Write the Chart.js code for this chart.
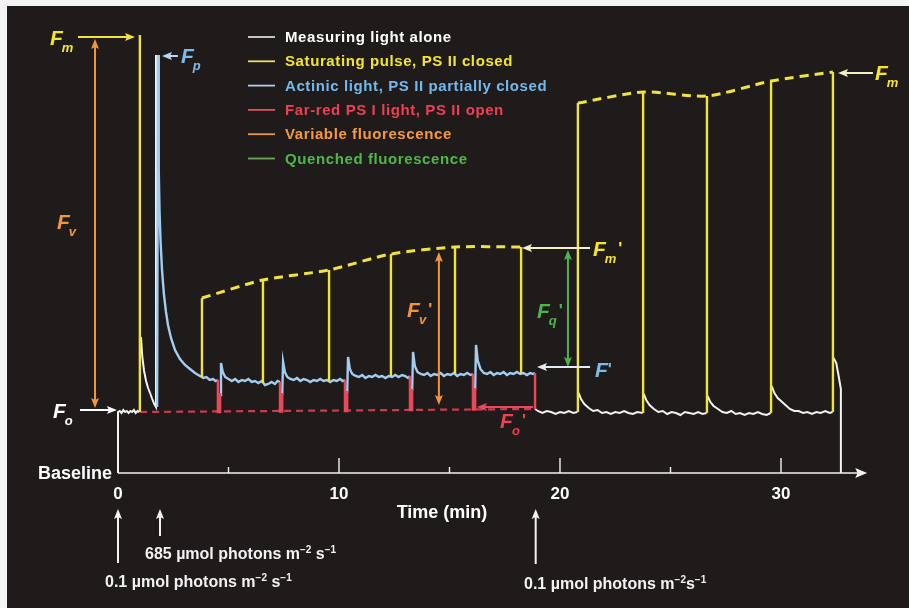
<!DOCTYPE html>
<html><head><meta charset="utf-8">
<script src="https://cdn.jsdelivr.net/npm/chart.js@4.4.1/dist/chart.umd.min.js"></script>
<style>html,body{margin:0;padding:0;background:#fff;}canvas{display:block;}</style>
</head><body>
<canvas id="c" width="909" height="608"></canvas>
<script>
// ---------------- DATA (time in min, fluorescence in relative units) ----------------
const timeTicksMajor = [0, 10, 20, 30];
const timeTickLabels = ['0', '10', '20', '30'];
const timeTicksMinor = [5, 15, 25];
const axisEnd = 33.9;

const legendLabels = [
  'Measuring light alone',
  'Saturating pulse, PS II closed',
  'Actinic light, PS II partially closed',
  'Far-red PS I light, PS II open',
  'Variable fluorescence',
  'Quenched fluorescence'
];

// measuring light alone (white trace)
const measuringLight = [
  [0,0],[0,0.61],[0.08,0.62],[0.16,0.60],[0.24,0.63],[0.32,0.61],[0.4,0.62],[0.48,0.60],[0.56,0.62],[0.64,0.61],[0.72,0.63],[0.8,0.60],[0.88,0.62],[0.97,0.61],
  null,
  [1.04,1.36],[1.1,1.16],[1.18,1.02],[1.27,0.92],[1.36,0.85],[1.45,0.80],[1.55,0.74],[1.64,0.69],[1.72,0.66],[1.72,4.18],
  null,
  [18.87,0.64],[19.0,0.62],[19.2,0.60],[19.4,0.62],[19.6,0.61],[19.8,0.59],[20.0,0.61],[20.2,0.60],[20.4,0.62],[20.6,0.60],[20.79,0.61],
  null,
  [20.84,0.80],[20.95,0.74],[21.1,0.69],[21.3,0.65],[21.5,0.62],[21.7,0.63],[21.9,0.60],[22.1,0.61],[22.3,0.59],[22.5,0.61],[22.7,0.60],[22.9,0.62],[23.1,0.60],[23.3,0.59],[23.5,0.61],[23.74,0.60],
  null,
  [23.79,0.79],[23.9,0.73],[24.05,0.68],[24.25,0.64],[24.45,0.61],[24.65,0.62],[24.85,0.59],[25.05,0.61],[25.25,0.60],[25.45,0.58],[25.65,0.61],[25.85,0.60],[26.05,0.59],[26.25,0.61],[26.45,0.59],[26.63,0.60],
  null,
  [26.68,0.77],[26.8,0.71],[26.95,0.67],[27.15,0.64],[27.35,0.61],[27.55,0.60],[27.75,0.62],[27.95,0.59],[28.15,0.60],[28.35,0.58],[28.55,0.60],[28.75,0.59],[28.95,0.61],[29.15,0.59],[29.35,0.58],[29.53,0.60],
  null,
  [29.58,0.87],[29.7,0.80],[29.85,0.75],[30.0,0.72],[30.2,0.68],[30.4,0.64],[30.6,0.62],[30.8,0.62],[31.0,0.60],[31.2,0.61],[31.4,0.59],[31.6,0.61],[31.8,0.60],[32.0,0.62],[32.2,0.60],[32.33,0.61],
  null,
  [32.38,1.15],[32.5,1.10],[32.6,0.98],[32.71,0.84],[32.71,0]
];

// actinic light (blue trace)
const actinicLight = [
  [1.77,0.66],[1.81,4.18],[1.833,3.53],[1.855,3.03],[1.878,2.63],[1.923,2.33],[1.991,2.03],[2.081,1.78],[2.172,1.61],[2.262,1.48],[2.398,1.35],[2.579,1.23],[2.805,1.14],[3.032,1.08],[3.258,1.04],[3.484,1.00],[3.71,0.97],[3.86,0.95],[4.0,0.96],[4.15,0.93],[4.3,0.94],[4.42,0.92],[4.52,0.93],
  null,
  [4.62,0.78],[4.66,1.10],[4.74,1.01],[4.85,0.96],[5.0,0.94],[5.15,0.92],[5.3,0.94],[5.45,0.91],[5.6,0.93],[5.75,0.92],[5.9,0.94],[6.05,0.91],[6.2,0.92],[6.35,0.90],[6.5,0.92],[6.65,0.88],[6.8,0.89],[6.95,0.91],[7.1,0.89],[7.22,0.92],[7.33,0.91],
  null,
  [7.43,0.78],[7.47,1.11],[7.55,1.01],[7.66,0.96],[7.8,0.94],[7.95,0.93],[8.1,0.95],[8.25,0.92],[8.4,0.94],[8.55,0.93],[8.7,0.91],[8.85,0.93],[9.0,0.92],[9.15,0.94],[9.3,0.92],[9.45,0.93],[9.6,0.91],[9.75,0.93],[9.9,0.92],[10.05,0.94],[10.17,0.92],[10.27,0.93],
  null,
  [10.37,0.80],[10.41,1.16],[10.49,1.04],[10.6,0.99],[10.75,0.97],[10.9,0.96],[11.05,0.98],[11.2,0.95],[11.35,0.97],[11.5,0.96],[11.65,0.98],[11.8,0.96],[11.95,0.97],[12.1,0.95],[12.25,0.97],[12.4,0.96],[12.55,0.98],[12.7,0.96],[12.85,0.98],[13.0,0.97],[13.12,0.95],[13.21,0.97],
  null,
  [13.31,0.82],[13.35,1.21],[13.43,1.07],[13.55,1.01],[13.7,0.99],[13.85,0.98],[14.0,1.00],[14.15,0.97],[14.3,0.99],[14.45,0.98],[14.6,1.00],[14.75,0.97],[14.9,0.99],[15.05,0.98],[15.2,1.00],[15.35,0.97],[15.5,0.99],[15.65,0.98],[15.8,1.00],[15.95,0.98],[16.06,0.99],
  null,
  [16.16,0.83],[16.2,1.28],[16.28,1.12],[16.4,1.04],[16.55,1.00],[16.7,0.99],[16.85,1.01],[17.0,0.98],[17.15,1.00],[17.3,0.99],[17.45,1.01],[17.6,0.98],[17.75,1.00],[17.9,0.99],[18.05,1.01],[18.2,0.99],[18.35,1.00],[18.5,0.98],[18.65,1.00],[18.78,0.99],[18.87,1.00]
];

// far-red PS I light dips (red)
const farRedDips = [
  [4.52,0.93],[4.52,0.61],[4.62,0.61],[4.62,0.80], null,
  [7.33,0.91],[7.33,0.615],[7.43,0.615],[7.43,0.80], null,
  [10.27,0.93],[10.27,0.62],[10.37,0.62],[10.37,0.82], null,
  [13.21,0.97],[13.21,0.63],[13.31,0.63],[13.31,0.84], null,
  [16.06,0.99],[16.06,0.635],[16.16,0.635],[16.16,0.85], null,
  [18.87,1.00],[18.87,0.64]
];

// Fo' level (red dashed)
const foPrimeLine = [[1.0,0.61],[18.87,0.64]];

// saturating pulses
const pulseTimes = [0.99, 3.80, 6.56, 9.55, 12.35, 15.25, 18.24, 20.81, 23.76, 26.65, 29.55, 32.35];
const pulseBase  = [0.61, 0.96, 0.90, 0.92, 0.97, 0.99, 0.99, 0.61, 0.60, 0.60, 0.60, 0.61];
const pulseTop   = [4.38, 1.75, 1.93, 2.03, 2.19, 2.26, 2.26, 3.70, 3.81, 3.77, 3.92, 4.01];
const fmPrimeIdx = [1, 2, 3, 4, 5, 6];
const fmIdx = [7, 8, 9, 10, 11];

// ---------------- BUILD ----------------
function toXY(arr) {
  const out = []; let lastX = 0;
  for (const p of arr) {
    if (p === null) out.push({x: lastX, y: null});
    else { out.push({x: p[0], y: p[1]}); lastX = p[0]; }
  }
  return out;
}
const pulseSegs = [];
pulseTimes.forEach((t, i) => { pulseSegs.push([t, pulseBase[i]], [t, pulseTop[i]], null); });
const fmPrimeEnv = fmPrimeIdx.map(i => [pulseTimes[i], pulseTop[i]]);
const fmEnv = fmIdx.map(i => [pulseTimes[i], pulseTop[i]]);

const C = {
  white: '#f2f2f2', yellow: '#f1e33a', blue: '#a3cdf0', red: '#e9475a',
  redDash: '#cf3a50', orange: '#f2953f', green: '#4fb54a', bg: '#201b1b'
};
const FONT = '"Liberation Sans", Arial, Helvetica, sans-serif';

const datasets = [
  {label: 'Fm envelope', data: toXY(fmPrimeEnv.concat([null], fmEnv)), borderColor: C.yellow, borderWidth: 3, borderDash: [9, 6], tension: 0.25, order: 0},
  {label: legendLabels[1], data: toXY(pulseSegs), borderColor: C.yellow, borderWidth: 2.4, order: 1},
  {label: legendLabels[3], data: toXY(farRedDips), borderColor: C.red, borderWidth: 2.4, order: 2},
  {label: legendLabels[2], data: toXY(actinicLight), borderColor: C.blue, borderWidth: 2.4, order: 3},
  {label: legendLabels[0], data: toXY(measuringLight), borderColor: C.white, borderWidth: 2, order: 4},
  {label: "Fo'", data: toXY(foPrimeLine), borderColor: C.redDash, borderWidth: 2.2, borderDash: [7, 5], order: 5}
];

const X_MIN = -118 / 22.1, X_MAX = (909 - 118) / 22.1;
const Y_MAX = 4.73, Y_MIN = -1.35;

// annotation definitions (data units)
const fLabels = [
  {t: -3.08, v: 4.28, sub: 'm', prime: false, color: '#f5e52a'},
  {t: -2.76, v: 2.44, sub: 'v', prime: false, color: C.orange},
  {t: 2.85, v: 4.10, sub: 'p', prime: false, color: '#7bbcec'},
  {t: -2.94, v: 0.55, sub: 'o', prime: false, color: '#ffffff'},
  {t: 13.08, v: 1.56, sub: 'v', prime: true, color: C.orange},
  {t: 18.96, v: 1.55, sub: 'q', prime: true, color: C.green},
  {t: 21.49, v: 2.17, sub: 'm', prime: true, color: '#f5e52a'},
  {t: 21.58, v: 0.96, sub: '', prime: true, color: '#7bbcec'},
  {t: 17.29, v: 0.45, sub: 'o', prime: true, color: '#ee3f55'},
  {t: 34.25, v: 3.93, sub: 'm', prime: false, color: '#f5e52a'}
];
const arrows = [
  {t1: -1.81, v1: 4.36, t2: 0.77, v2: 4.36, color: C.yellow, both: false},
  {t1: -1.04, v1: 4.34, t2: -1.04, v2: 0.65, color: C.orange, both: true},
  {t1: 2.71, v1: 4.17, t2: 1.99, v2: 4.17, color: '#b8d8f4', both: false},
  {t1: -1.72, v1: 0.63, t2: -0.05, v2: 0.63, color: '#ffffff', both: false},
  {t1: 14.52, v1: 2.21, t2: 14.52, v2: 0.68, color: C.orange, both: true},
  {t1: 20.36, v1: 2.23, t2: 20.36, v2: 1.06, color: C.green, both: true},
  {t1: 21.36, v1: 2.25, t2: 18.28, v2: 2.25, color: '#f3f0c8', both: false},
  {t1: 21.36, v1: 1.06, t2: 18.96, v2: 1.06, color: '#e0ecf4', both: false},
  {t1: 18.78, v1: 0.66, t2: 16.24, v2: 0.66, color: C.red, both: false},
  {t1: 34.16, v1: 4.00, t2: 32.58, v2: 4.00, color: '#f3f0c0', both: false}
];
const legendTextColors = ['#ffffff', '#f5e52a', '#74b9ee', '#ee3f55', '#f59b3d', '#4db848'];
const legendLineColors = ['#d8d8d8', '#e8e070', '#b4cce4', '#e0505f', '#ea9550', '#6ea85e'];

function arrowHead(ctx, x, y, ang, color, len = 10, half = 4) {
  ctx.save(); ctx.translate(x, y); ctx.rotate(ang);
  ctx.beginPath(); ctx.moveTo(0, 0); ctx.lineTo(-len, -half); ctx.lineTo(-len * 0.8, 0); ctx.lineTo(-len, half); ctx.closePath();
  ctx.fillStyle = color; ctx.fill(); ctx.restore();
}
function drawArrow(ctx, x1, y1, x2, y2, color, width, both) {
  const ang = Math.atan2(y2 - y1, x2 - x1);
  const c = Math.cos(ang), s = Math.sin(ang);
  ctx.save(); ctx.strokeStyle = color; ctx.lineWidth = width;
  ctx.beginPath();
  ctx.moveTo(both ? x1 + c * 6 : x1, both ? y1 + s * 6 : y1);
  ctx.lineTo(x2 - c * 6, y2 - s * 6); ctx.stroke(); ctx.restore();
  arrowHead(ctx, x2, y2, ang, color);
  if (both) arrowHead(ctx, x1, y1, ang + Math.PI, color);
}
function drawF(ctx, x, y, sub, prime, color) {
  ctx.save(); ctx.fillStyle = color; ctx.textBaseline = 'alphabetic'; ctx.textAlign = 'left';
  ctx.font = 'italic bold 21px ' + FONT;
  ctx.fillText('F', x, y);
  let cx = x + ctx.measureText('F').width - 1;
  if (sub) {
    ctx.font = 'italic bold 13px ' + FONT;
    ctx.fillText(sub, cx, y + 7);
    cx += ctx.measureText(sub).width + 1;
  }
  if (prime) {
    ctx.font = 'bold 17px ' + FONT;
    ctx.fillText("'", cx + 1, y - 2);
  }
  ctx.restore();
}
function drawRich(ctx, x, y, parts, size) {
  // parts: [text, isSuperscript]
  let cx = x;
  for (const [txt, sup] of parts) {
    ctx.font = 'bold ' + (sup ? Math.round(size * 0.62) : size) + 'px ' + FONT;
    ctx.fillText(txt, cx, sup ? y - size * 0.4 : y);
    cx += ctx.measureText(txt).width;
  }
}

const bgPlugin = {
  id: 'bg',
  beforeDraw(chart) {
    const ctx = chart.ctx;
    ctx.save();
    ctx.fillStyle = '#f4f4f4'; ctx.fillRect(0, 0, chart.width, chart.height);
    ctx.fillStyle = C.bg; ctx.fillRect(7, 6, chart.width - 7, chart.height - 6);
    ctx.restore();
  }
};

const annotPlugin = {
  id: 'annot',
  beforeDatasetsDraw(chart) {
    const ctx = chart.ctx, xs = chart.scales.x, ys = chart.scales.y;
    const y0 = ys.getPixelForValue(0);
    ctx.save();
    ctx.strokeStyle = '#f2f2f2'; ctx.lineWidth = 1.6;
    ctx.beginPath(); ctx.moveTo(xs.getPixelForValue(0), y0); ctx.lineTo(xs.getPixelForValue(axisEnd) - 6, y0); ctx.stroke();
    arrowHead(ctx, xs.getPixelForValue(axisEnd), y0, 0, '#f2f2f2', 12, 5);
    ctx.lineWidth = 1.4;
    timeTicksMajor.forEach(t => { if (t === 0) return; const x = xs.getPixelForValue(t); ctx.beginPath(); ctx.moveTo(x, y0); ctx.lineTo(x, y0 - 15); ctx.stroke(); });
    timeTicksMinor.forEach(t => { const x = xs.getPixelForValue(t); ctx.beginPath(); ctx.moveTo(x, y0); ctx.lineTo(x, y0 - 6); ctx.stroke(); });
    ctx.restore();
  },
  afterDatasetsDraw(chart) {
    const ctx = chart.ctx, xs = chart.scales.x, ys = chart.scales.y;
    const X = t => xs.getPixelForValue(t), Y = v => ys.getPixelForValue(v);
    const y0 = Y(0);
    ctx.save();
    // tick labels
    ctx.fillStyle = '#ffffff'; ctx.textAlign = 'center'; ctx.textBaseline = 'alphabetic';
    ctx.font = 'bold 17px ' + FONT;
    timeTicksMajor.forEach((t, i) => ctx.fillText(timeTickLabels[i], X(t), y0 + 26));
    ctx.font = 'bold 18px ' + FONT;
    ctx.fillText('Time (min)', 442, y0 + 45);
    ctx.textAlign = 'left';
    ctx.fillText('Baseline', 38, y0 + 6);
    // arrows
    arrows.forEach(a => drawArrow(ctx, X(a.t1), Y(a.v1), X(a.t2), Y(a.v2), a.color, 2, a.both));
    // F labels
    fLabels.forEach(l => drawF(ctx, X(l.t), Y(l.v), l.sub, l.prime, l.color));
    // legend
    legendLabels.forEach((lab, i) => {
      const y = 37 + i * 24.3;
      ctx.strokeStyle = legendLineColors[i]; ctx.lineWidth = 1.8;
      ctx.beginPath(); ctx.moveTo(248, y); ctx.lineTo(275, y); ctx.stroke();
      ctx.fillStyle = legendTextColors[i]; ctx.font = 'bold 15px ' + FONT; ctx.textBaseline = 'middle';
      ctx.letterSpacing = '0.6px';
      ctx.fillText(lab, 285, y + 1);
      ctx.letterSpacing = '0px';
    });
    ctx.textBaseline = 'alphabetic';
    // light-change arrows under the axis
    const lightArrows = [[0, y0 + 90, y0 + 36], [1.9, y0 + 63, y0 + 36], [18.9, y0 + 91, y0 + 36]];
    lightArrows.forEach(([t, yb, yt]) => drawArrow(ctx, X(t), yb, X(t), yt, '#f2f2f2', 2, false));
    ctx.fillStyle = '#f2f2f2';
    drawRich(ctx, 145, y0 + 86, [['685 µmol photons m', false], ['−2', true], [' s', false], ['−1', true]], 16);
    drawRich(ctx, 105, y0 + 114, [['0.1 µmol photons m', false], ['−2', true], [' s', false], ['−1', true]], 16);
    drawRich(ctx, 524, y0 + 116, [['0.1 µmol photons m', false], ['−2', true], ['s', false], ['−1', true]], 16);
    ctx.restore();
  }
};

new Chart(document.getElementById('c'), {
  type: 'line',
  data: {datasets},
  options: {
    responsive: false, animation: false,
    layout: {padding: 0},
    spanGaps: false,
    elements: {point: {radius: 0}, line: {tension: 0, borderCapStyle: 'butt', borderJoinStyle: 'miter'}},
    scales: {
      x: {type: 'linear', min: X_MIN, max: X_MAX, display: false},
      y: {type: 'linear', min: Y_MIN, max: Y_MAX, display: false}
    },
    plugins: {legend: {display: false}, tooltip: {enabled: false}}
  },
  plugins: [bgPlugin, annotPlugin]
});
</script>
</body></html>
